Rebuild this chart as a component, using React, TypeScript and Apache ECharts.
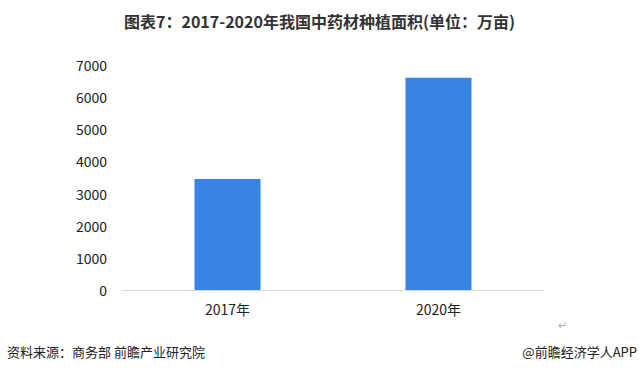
import React, { useEffect, useRef } from "react";
import * as echarts from "echarts";

const categories = ["2017年", "2020年"];
const areaValues = [3450, 6600];
const yTicks = [0, 1000, 2000, 3000, 4000, 5000, 6000, 7000];

export default function App() {
  const ref = useRef<HTMLDivElement>(null);
  useEffect(() => {
    if (!ref.current) return;
    const chart = echarts.init(ref.current, undefined, { renderer: "svg" });
    const font = "'Noto Sans CJK SC', 'Microsoft YaHei', sans-serif";
    chart.setOption({
      animation: false,
      backgroundColor: "#ffffff",
      title: {
        text: "图表7：2017-2020年我国中药材种植面积(单位：万亩)",
        left: "center",
        top: 8,
        textStyle: { fontSize: 16, fontWeight: "bold", color: "#333333", fontFamily: font },
      },
      grid: { left: 122, right: 95, top: 65, bottom: 84, containLabel: false },
      xAxis: {
        type: "category",
        data: categories,
        axisLine: { lineStyle: { color: "#d9d9d9", width: 1 } },
        axisTick: { show: false },
        axisLabel: { fontSize: 14, color: "#222222", margin: 12, fontFamily: font },
      },
      yAxis: {
        type: "value",
        min: yTicks[0],
        max: yTicks[yTicks.length - 1],
        interval: 1000,
        axisLine: { show: false },
        axisTick: { show: false },
        splitLine: { show: false },
        axisLabel: {
          fontSize: 14,
          color: "#222222",
          margin: 15,
          fontFamily: font,
          formatter: (v: number) => String(v),
        },
      },
      series: [
        {
          type: "bar",
          data: areaValues,
          barWidth: 66,
          itemStyle: { color: "#3683e3" },
        },
      ],
      graphic: [
        {
          type: "text",
          left: 7,
          top: 345,
          style: { text: "资料来源：商务部 前瞻产业研究院", fontSize: 13, fill: "#222222", fontFamily: font },
        },
        {
          type: "text",
          right: 2,
          top: 345,
          style: { text: "@前瞻经济学人APP", fontSize: 13, fill: "#222222", fontFamily: font },
        },
        {
          type: "text",
          left: 558,
          top: 318,
          style: { text: "↵", fontSize: 11, fill: "#aaaaaa", fontFamily: font },
        },
      ],
    });
    return () => chart.dispose();
  }, []);
  return <div ref={ref} style={{ width: 639, height: 374, position: "absolute", left: 0, top: 0 }} />;
}
